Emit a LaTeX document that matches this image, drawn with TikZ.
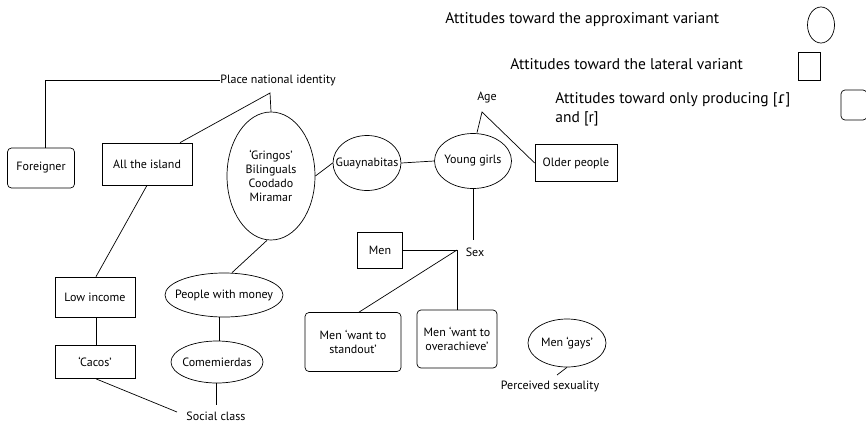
\documentclass[tikz,border=0pt]{standalone}
\usepackage{fontspec}
\setmainfont{PT Sans}
\newfontfamily\ipafont{DejaVu Sans}
\usetikzlibrary{shapes.geometric}
\begin{document}
\begin{tikzpicture}[x=1pt,y=-1pt,
  line width=0.7pt,
  lbl/.style={font=\fontsize{12}{14}\selectfont, inner sep=0pt},
  leg/.style={font=\fontsize{15.5}{19}\selectfont, inner sep=0pt, anchor=west},
  sq/.style={draw, rectangle, lbl, align=center},
  rsq/.style={draw, rectangle, rounded corners=4pt, lbl, align=center},
  ell/.style={draw, ellipse, lbl, align=center, inner xsep=-14pt, inner ysep=-6pt}]
\useasboundingbox (0,0) rectangle (866,423);

% legend
\node[leg] (l1) at (445,20) {Attitudes toward the approximant variant};
\node[draw, ellipse, minimum width=27pt, minimum height=36pt] (lc) at (821,25) {};
\node[leg] (l2) at (510,64) {Attitudes toward the lateral variant};
\node[draw, rectangle, minimum width=22pt, minimum height=28pt, inner sep=0pt] (ls) at (809,66) {};
\node[leg, align=left, anchor=north west] (l3) at (555,92) {Attitudes toward only producing [{\ipafont ɾ}]\\and [r]};
\node[draw, rectangle, rounded corners=4pt, minimum width=26pt, minimum height=30pt, inner sep=0pt] (lr) at (854,105) {};

% top
\node[lbl] (pni) at (278,80) {Place national identity};
\coordinate (f1) at (270,93);
\coordinate (c45) at (45,80);
\node[rsq, minimum width=67pt, minimum height=40pt] (for) at (41,168) {Foreigner};
\node[sq, minimum width=90pt, minimum height=42pt] (isl) at (147,164) {All the island};
\node[ell, minimum width=88pt, minimum height=128pt] (gri) at (271,176) {‘Gringos’\\Bilinguals\\Coodado\\Miramar};
\node[ell, minimum width=68pt, minimum height=55pt] (guay) at (367,163) {Guaynabitas};
\node[ell, minimum width=77pt, minimum height=55pt] (yg) at (473,161) {Young girls};
\node[lbl] (age) at (487,98) {Age};
\coordinate (f2) at (482,112);
\node[sq, minimum width=82pt, minimum height=37pt] (old) at (576,163) {Older people};

% sex
\coordinate (s0) at (473,240);
\node[lbl] (sex) at (475,252) {Sex};
\node[sq, minimum width=45pt, minimum height=36pt] (men) at (380,250) {Men};
\coordinate (f3) at (457,250);
\node[rsq, minimum width=96pt, minimum height=59pt] (sto) at (353,342) {Men ‘want to\\standout’};
\node[rsq, minimum width=80pt, minimum height=58pt] (ove) at (457,339) {Men ‘want to\\overachieve’};
\node[ell, minimum width=78pt, minimum height=48pt] (gay) at (567,343) {Men ‘gays’};
\node[lbl] (ps) at (550,386) {Perceived sexuality};

% social class
\node[sq, minimum width=80pt, minimum height=40pt] (low) at (95,297) {Low income};
\node[sq, minimum width=80pt, minimum height=33pt] (cac) at (95,362) {‘Cacos’};
\node[ell, minimum width=118pt, minimum height=44pt] (pwm) at (224,295) {People with money};
\node[ell, minimum width=92pt, minimum height=42pt] (com) at (217,362) {Comemierdas};
\node[lbl] (sc) at (216,416) {Social class};

% connectors
\draw (pni.west) -- (c45) -- (for.north -| c45);
\draw (isl.north) ++(33,0) coordinate (ia) (ia) -- (f1) -- (gri.north);
\draw (gri.east) -- (guay.west);
\draw (guay.east) -- (yg.west);
\draw (yg.north) ++(4,-0.5) coordinate (ya) (ya) -- (f2) -- (old.west);
\draw (yg.south) -- (s0);
\draw (men.east) -- (f3) -- (ove.north);
\draw (f3) -- ([xshift=6pt]sto.north);
\draw (gay.south) -- (557,375);
\draw (isl.south) -- ([xshift=1pt]low.north);
\draw ([xshift=1pt]low.south) -- ([xshift=1pt]cac.north);
\draw ([xshift=1pt]cac.south) -- (177,412);
\draw ([xshift=-4pt]gri.south) -- ([xshift=8pt]pwm.north);
\draw ([xshift=-5pt]pwm.south) -- ([xshift=2pt]com.north);
\draw ([xshift=-1pt]com.south) -- (216,405);
\end{tikzpicture}
\end{document}
